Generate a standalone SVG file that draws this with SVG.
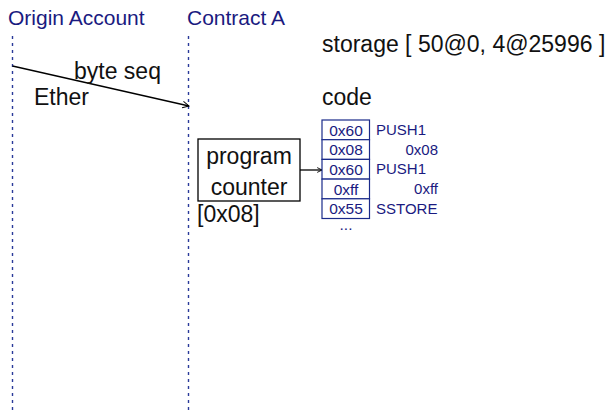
<svg xmlns="http://www.w3.org/2000/svg" width="610" height="413" viewBox="0 0 610 413">
  <defs>
    <marker id="open-arrow" viewBox="0 0 10 10" refX="9" refY="5" markerWidth="8" markerHeight="8" orient="auto" markerUnits="userSpaceOnUse">
      <path d="M1,1 L9,5 L1,9" fill="none" stroke="#000" stroke-width="1.2"/>
    </marker>
    <marker id="open-arrow-sm" viewBox="0 0 10 10" refX="9" refY="5" markerWidth="6" markerHeight="6" orient="auto" markerUnits="userSpaceOnUse">
      <path d="M1,1 L9,5 L1,9" fill="none" stroke="#000" stroke-width="1.5"/>
    </marker>
    <style>
      text { font-family: "Liberation Sans", Arial, sans-serif; }
      .actor { font-size: 21px; fill: #1a1a80; }
      .lbl { font-size: 23px; fill: #111; }
      .lifeline { stroke: #2a3a9a; stroke-width: 1.4; stroke-dasharray: 3 4; fill: none; }
      .msg { stroke: #000; stroke-width: 1.3; fill: none; }
      .cell { fill: #fff; stroke: #1a2a8a; stroke-width: 1.2; }
      .ctext { font-size: 15.5px; fill: #1a1a80; text-anchor: middle; }
      .op { font-size: 15px; fill: #1a1a80; }
      .arg { font-size: 15px; fill: #1a1a80; text-anchor: end; }
      .pc { fill: #fff; stroke: #000; stroke-width: 1.3; }
    </style>
  </defs>

  <!-- participants -->
  <g id="origin-account">
    <text class="actor" x="8" y="25">Origin Account</text>
  </g>
  <g id="contract-a">
    <text class="actor" x="187" y="25">Contract A</text>
  </g>

  <g id="connectors">
    <line class="lifeline" x1="12.5" y1="36" x2="12.5" y2="413"/>
    <line class="lifeline" x1="188.5" y1="36" x2="188.5" y2="413"/>
    <line class="msg" x1="12.5" y1="66" x2="189" y2="106" marker-end="url(#open-arrow)"/>
    <line class="msg" x1="300" y1="170" x2="322" y2="170" marker-end="url(#open-arrow-sm)"/>
  </g>

  <g id="message-labels">
    <text class="lbl" x="74" y="79">byte seq</text>
    <text class="lbl" x="34" y="105">Ether</text>
  </g>

  <g id="storage">
    <text class="lbl" x="322" y="52">storage [ 50@0, 4@25996 ]</text>
  </g>

  <g id="program-counter">
    <rect class="pc" x="198" y="139" width="102" height="62"/>
    <text class="lbl" x="249" y="164" text-anchor="middle">program</text>
    <text class="lbl" x="249" y="195" text-anchor="middle">counter</text>
    <text class="lbl" x="197" y="222">[0x08]</text>
  </g>

  <g id="code">
    <text class="lbl" x="322" y="105">code</text>
    <rect class="cell" x="322" y="120" width="47.5" height="19.7"/>
    <rect class="cell" x="322" y="139.7" width="47.5" height="19.7"/>
    <rect class="cell" x="322" y="159.4" width="47.5" height="19.7"/>
    <rect class="cell" x="322" y="179.1" width="47.5" height="19.7"/>
    <rect class="cell" x="322" y="198.8" width="47.5" height="19.7"/>
    <text class="ctext" x="346" y="135.5">0x60</text>
    <text class="ctext" x="346" y="155.2">0x08</text>
    <text class="ctext" x="346" y="174.9">0x60</text>
    <text class="ctext" x="346" y="194.6">0xff</text>
    <text class="ctext" x="346" y="214.3">0x55</text>
    <text class="ctext" x="346" y="230">...</text>
    <text class="op" x="376" y="135">PUSH1</text>
    <text class="arg" x="438" y="154.7">0x08</text>
    <text class="op" x="376" y="174.4">PUSH1</text>
    <text class="arg" x="438" y="194.1">0xff</text>
    <text class="op" x="376" y="213.8">SSTORE</text>
  </g>
</svg>
